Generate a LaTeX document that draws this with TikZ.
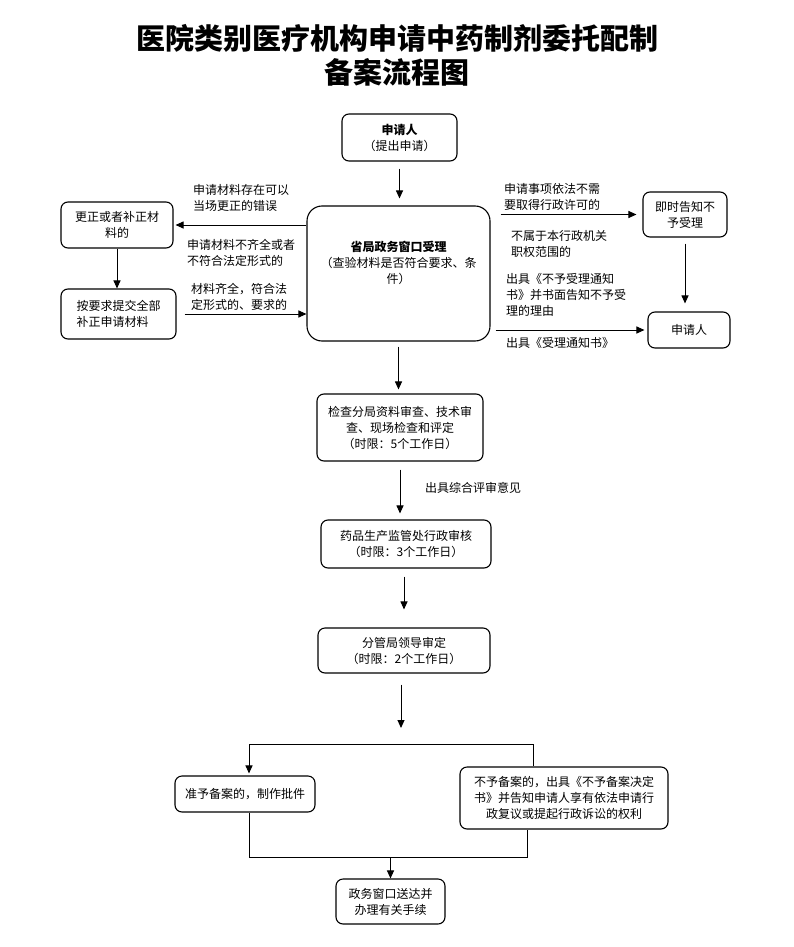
\documentclass[tikz,border=0pt]{standalone}
\usepackage{fontspec}
\newfontfamily\cjk{Noto Sans CJK SC}
\usetikzlibrary{arrows.meta,calc}
\begin{document}
\begin{tikzpicture}[x=1pt,y=-1pt,
  box/.style={draw,line width=1.1pt,rounded corners=7pt,align=center,inner sep=0pt,
    font=\cjk\fontsize{12}{16}\selectfont},
  lbl/.style={anchor=west,align=left,inner sep=0pt,font=\cjk\fontsize{12}{16}\selectfont},
  arr/.style={line width=1pt,-{Triangle[length=8pt,width=7pt]}},
  ln/.style={line width=1pt}]
\useasboundingbox (0,0) rectangle (793,947);
% title
\node[font=\cjk\bfseries\fontsize{29}{34}\selectfont] (t1) at (397,38) {医院类别医疗机构申请中药制剂委托配制};
\node[font=\cjk\bfseries\fontsize{29}{34}\selectfont] (t2) at (397,72) {备案流程图};
% boxes
\node[box,minimum width=115,minimum height=47] (sq) at (399.5,137.5) {{\bfseries 申请人}\\（提出申请）};
\node[box,rounded corners=15pt,minimum width=183,minimum height=135] (shj) at (398.5,273.5) {{\bfseries 省局政务窗口受理}\\（查验材料是否符合要求、条\\件）\\[6pt]};
\node[box,minimum width=112,minimum height=46] (gz) at (117,225) {更正或者补正材\\料的};
\node[box,align=left,minimum width=115,minimum height=50] (ayq) at (118.5,314) {按要求提交全部\\补正申请材料};
\node[box,minimum width=84,minimum height=45] (jsgz) at (685,214.5) {即时告知不\\予受理};
\node[box,minimum width=82,minimum height=36] (sqr) at (689,330) {申请人};
\node[box,minimum width=166,minimum height=67] (jc) at (400,427.5) {检查分局资料审查、技术审\\查、现场检查和评定\\（时限：5个工作日）};
\node[box,minimum width=170,minimum height=48] (yp) at (406,544) {药品生产监管处行政审核\\（时限：3个工作日）};
\node[box,minimum width=172,minimum height=45] (fg) at (404,650.5) {分管局领导审定\\（时限：2个工作日）};
\node[box,minimum width=140,minimum height=36] (zy) at (245,794) {准予备案的，制作批件};
\node[box,minimum width=208,minimum height=62] (by) at (564,798) {不予备案的，出具《不予备案决定\\书》并告知申请人享有依法申请行\\政复议或提起行政诉讼的权利};
\node[box,minimum width=109,minimum height=45] (zw) at (390.5,901.5) {政务窗口送达并\\办理有关手续};
% labels
\node[lbl] (l1) at (193,198) {申请材料存在可以\\当场更正的错误};
\node[lbl] (l2) at (187,253) {申请材料不齐全或者\\不符合法定形式的};
\node[lbl] (l3) at (191,297) {材料齐全，符合法\\定形式的、要求的};
\node[lbl] (r1) at (504,197) {申请事项依法不需\\要取得行政许可的};
\node[lbl] (r2) at (511,244) {不属于本行政机关\\职权范围的};
\node[lbl] (r3) at (506,295) {出具《不予受理通知\\书》并书面告知不予受\\理的理由};
\node[lbl] (r4) at (506,343) {出具《受理通知书》};
\node[lbl] (m1) at (425,488) {出具综合评审意见};
% connectors
\draw[arr,shorten <=7pt,shorten >=7pt] (sq.south) -- (sq.south |- shj.north);
\draw[arr,shorten >=2pt] (shj.west |- gz.east) -- (gz.east);
\draw[arr] (gz.south) -- (gz.south |- ayq.north);
\draw[arr,shorten <=8pt] (ayq.east) -- (ayq.east -| shj.west);
\draw[arr,shorten <=10pt,shorten >=6pt] (shj.east |- jsgz.west) -- (jsgz.west);
\draw[arr,shorten <=6pt,shorten >=8pt] (jsgz.south) -- (jsgz.south |- sqr.north);
\draw[arr,shorten <=5pt,shorten >=3pt] (shj.east |- sqr.west) -- (sqr.west);
\draw[arr,shorten <=5pt,shorten >=4pt] (shj.south) -- (shj.south |- jc.north);
\draw[arr,shorten <=8pt,shorten >=6pt] (jc.south) -- (jc.south |- yp.north);
\draw[arr,shorten <=8pt,shorten >=18pt] (fg.north |- yp.south) -- (fg.north);
\coordinate (split) at (401,728);
\draw[arr,shorten <=11pt] (fg.south -| split) -- (split);
\coordinate (sl) at (249,744);
\coordinate (sr) at (533,744);
\draw[ln] (sl) -- (sr);
\draw[arr,shorten >=2pt] (sl) -- (sl |- zy.north);
\draw[ln] (sr) -- (sr |- by.north);
\coordinate (bl) at (249,857);
\coordinate (br) at (527,857);
\draw[ln] (zy.south -| bl) -- (bl) -- (br) -- (by.south -| br);
\draw[arr] (zw.north |- bl) -- (zw.north);
\end{tikzpicture}
\end{document}
